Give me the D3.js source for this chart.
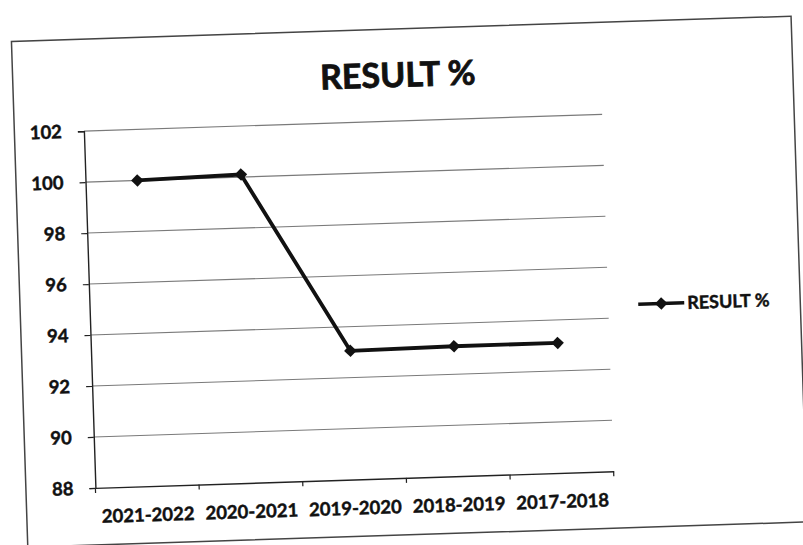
<!DOCTYPE html>
<html>
<head>
<meta charset="utf-8">
<script src="https://cdn.jsdelivr.net/npm/d3@7"></script>
<style>
  html, body { margin: 0; padding: 0; background: #ffffff; }
  svg { display: block; }
  text { font-family: Lato, "Open Sans", sans-serif; font-weight: bold; fill: #111; stroke: #111; stroke-width: 0.45px; }
</style>
</head>
<body>
<svg id="chart" width="803" height="545"></svg>
<script>
// ---- data ----
const categories = ["2021-2022", "2020-2021", "2019-2020", "2018-2019", "2017-2018"];
const resultValues = [100, 100.1, 93.05, 93.1, 93.1];
const yTicks = [88, 90, 92, 94, 96, 98, 100, 102];
const seriesName = "RESULT %";
const chartTitle = "RESULT %";

const svg = d3.select("#chart");
const g = svg.append("g").attr("transform", "rotate(-1.85, 400, 300)");

const margin = { left: 89.5, right: 608, top: 121, bottom: 478 };

// frame
g.append("rect")
  .attr("x", 20).attr("y", 29)
  .attr("width", 780).attr("height", 506)
  .attr("fill", "#fff")
  .attr("stroke", "#444").attr("stroke-width", 1.5);

const x = d3.scaleBand().domain(categories).range([margin.left, margin.right]);
const y = d3.scaleLinear().domain([88, 102]).range([margin.bottom, margin.top]);

// gridlines
g.append("g").selectAll("line").data(yTicks.filter(t => t !== 88)).join("line")
  .attr("x1", margin.left).attr("x2", margin.right)
  .attr("y1", d => y(d)).attr("y2", d => y(d))
  .attr("stroke", "#7a7a7a").attr("stroke-width", 1.1);

// y axis
const yAxis = g.append("g")
  .attr("transform", `translate(${margin.left},0)`)
  .call(d3.axisLeft(y).tickValues(yTicks).tickSize(6).tickPadding(16).tickFormat(d3.format("d")));
yAxis.select(".domain").attr("stroke", "#222").attr("stroke-width", 1.4);
yAxis.selectAll(".tick line").attr("stroke", "#222").attr("stroke-width", 1.2);
yAxis.selectAll("text").style("font-size", "18.5px").attr("fill", "#111");

// x axis
const xAxis = g.append("g")
  .attr("transform", `translate(0,${margin.bottom})`)
  .call(d3.axisBottom(x).tickSize(0).tickPadding(22));
xAxis.select(".domain").attr("stroke", "#222").attr("stroke-width", 1.4);
xAxis.selectAll("text").style("font-size", "18.5px").attr("fill", "#111");
// category boundary ticks
const bounds = categories.map(c => x(c)).concat([margin.right]);
g.append("g").selectAll("line").data(bounds).join("line")
  .attr("x1", d => d).attr("x2", d => d)
  .attr("y1", margin.bottom).attr("y2", margin.bottom + 5)
  .attr("stroke", "#222").attr("stroke-width", 1.2);

// series line
const pts = categories.map((c, i) => [x(c) + x.bandwidth() / 2, y(resultValues[i])]);
g.append("path")
  .attr("d", d3.line()(pts))
  .attr("fill", "none").attr("stroke", "#111").attr("stroke-width", 3.8)
  .attr("stroke-linejoin", "round");

const diamond = d3.symbol().type(d3.symbolDiamond2).size(100);
g.append("g").selectAll("path").data(pts).join("path")
  .attr("transform", d => `translate(${d[0]},${d[1]})`)
  .attr("d", diamond)
  .attr("fill", "#111");

// title
g.append("text")
  .attr("x", 405).attr("y", 87)
  .attr("text-anchor", "middle")
  .style("font-size", "34px")
  .style("stroke-width", "0.8px")
  .text(chartTitle);

// legend
const lg = g.append("g").attr("transform", "translate(0,312)");
lg.append("line").attr("x1", 638).attr("x2", 684).attr("y1", 0).attr("y2", 0)
  .attr("stroke", "#111").attr("stroke-width", 3.5);
lg.append("path").attr("transform", "translate(661,0)").attr("d", diamond).attr("fill", "#111");
lg.append("text").attr("x", 687).attr("y", 0).attr("dy", "0.35em")
  .style("font-size", "18px").text(seriesName);
</script>
</body>
</html>
